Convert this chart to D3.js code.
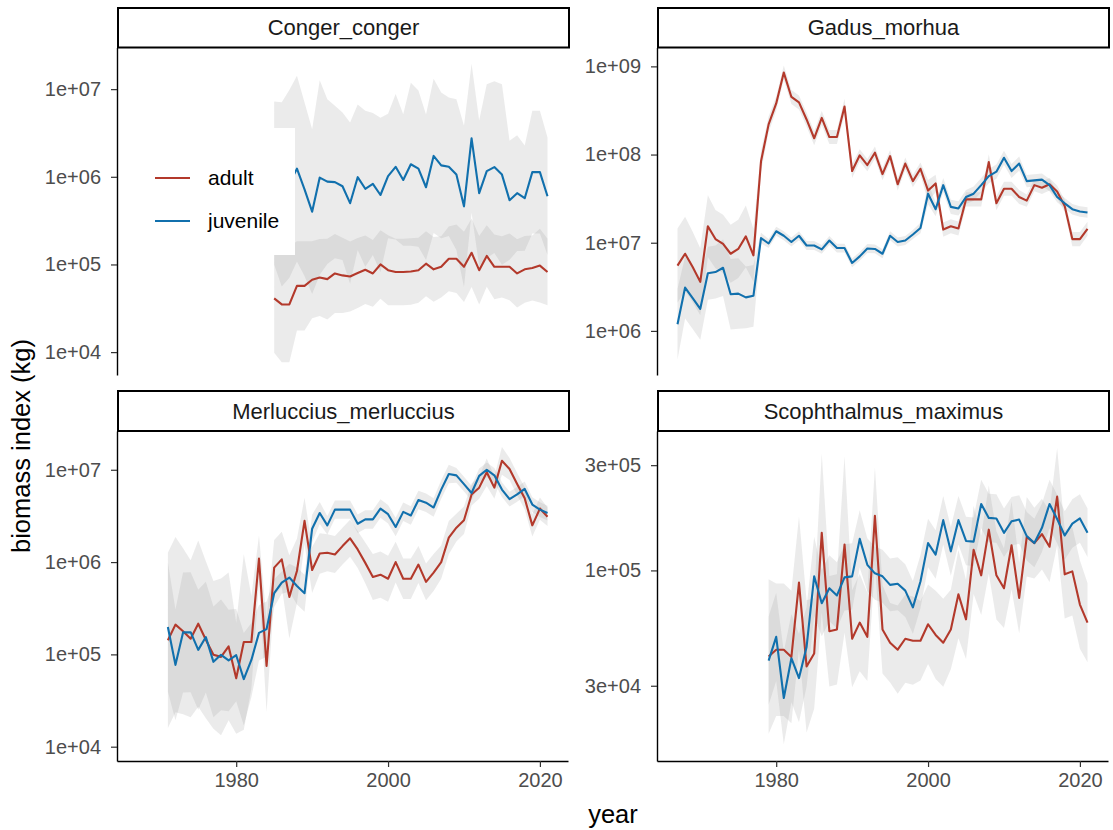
<!DOCTYPE html>
<html><head><meta charset="utf-8">
<script src="https://cdn.jsdelivr.net/npm/d3@7/dist/d3.min.js"></script>
<style>
body{margin:0;background:#fff;}
svg{display:block;font-family:"Liberation Sans",Arial,sans-serif;}
</style>
</head><body>
<svg id="chart" width="1113" height="830"></svg>
<script>
// ---------------- DATA ----------------
const stages = ["adult", "juvenile"];
const panelNames = ["Conger_conger", "Gadus_morhua", "Merluccius_merluccius", "Scophthalmus_maximus"];
const xTicks = [1980, 2000, 2020];

// Conger conger 1985-2021
const congerStart = 1985, congerEnd = 2021;
const congerAdult = [4.1e4,3.5e4,3.5e4,5.7e4,5.7e4,6.7e4,7.1e4,6.8e4,7.9e4,7.5e4,
  7.3e4,8.0e4,8.7e4,7.9e4,1.0e5,8.6e4,8.2e4,8.2e4,8.3e4,8.6e4,
  1.02e5,8.8e4,9.4e4,1.16e5,1.16e5,9.4e4,1.36e5,8.6e4,1.25e5,9.4e4,
  9.4e4,9.4e4,7.9e4,8.8e4,9.1e4,9.7e4,8.2e4];
const congerAdultCi = [0.62,0.66,0.66,0.51,0.51,0.44,0.44,0.46,0.45,0.43,
  0.40,0.40,0.39,0.38,0.39,0.40,0.38,0.38,0.38,0.37,
  0.37,0.37,0.35,0.37,0.39,0.40,0.39,0.39,0.35,0.37,
  0.35,0.38,0.39,0.38,0.37,0.42,0.38];
const congerJuv = [8.5e5,6.3e5,8.3e5,1.24e6,7.2e5,4.0e5,9.8e5,8.8e5,8.7e5,7.8e5,
  5.0e5,9.9e5,7.3e5,8.3e5,6.2e5,1.02e6,1.30e6,9.2e5,1.39e6,1.24e6,
  7.6e5,1.73e6,1.35e6,1.30e6,1.06e6,4.6e5,2.75e6,6.5e5,1.16e6,1.29e6,
  1.06e6,5.4e5,6.5e5,5.7e5,1.13e6,1.13e6,6.0e5];
const congerJuvCi = [0.93,1.05,1.07,1.06,0.99,0.94,1.11,0.94,0.87,0.84,
  0.92,0.83,0.89,0.81,0.88,0.71,0.83,0.75,0.93,0.89,
  0.83,0.88,0.83,0.79,0.86,0.92,0.85,0.83,0.99,0.98,
  1.03,0.68,0.66,0.60,0.70,0.70,0.67];
const congerTicks = [1e4, 1e5, 1e6, 1e7];
const congerTickLabels = ["1e+04", "1e+05", "1e+06", "1e+07"];

// Gadus morhua 1967-2021
const gadusStart = 1967, gadusEnd = 2021;
const gadusAdult = [5.5e6,7.5e6,5.3e6,3.6e6,1.54e7,1.10e7,9.7e6,7.5e6,8.5e6,1.18e7,
  7.2e6,8.4e7,2.2e8,3.8e8,8.5e8,4.5e8,3.9e8,2.5e8,1.53e8,2.6e8,
  1.58e8,1.58e8,3.5e8,6.5e7,9.8e7,7.6e7,1.05e8,6.0e7,9.6e7,4.6e7,
  7.9e7,5.0e7,6.9e7,3.9e7,4.7e7,1.41e7,1.54e7,1.45e7,3.1e7,3.1e7,
  3.1e7,8.2e7,2.8e7,4.1e7,4.1e7,3.3e7,3.0e7,4.5e7,4.2e7,4.6e7,
  3.8e7,2.6e7,1.1e7,1.1e7,1.44e7];
const gadusAdultCi = [0.42,0.42,0.40,0.38,0.35,0.33,0.33,0.33,0.33,0.35,
  0.30,0.12,0.09,0.08,0.08,0.08,0.08,0.08,0.08,0.08,
  0.08,0.08,0.09,0.08,0.07,0.07,0.07,0.07,0.07,0.07,
  0.07,0.07,0.07,0.12,0.10,0.08,0.08,0.08,0.08,0.08,
  0.08,0.09,0.08,0.08,0.08,0.08,0.07,0.07,0.07,0.07,
  0.07,0.07,0.08,0.08,0.08];
const gadusJuv = [1.19e6,3.1e6,2.36e6,1.78e6,4.5e6,4.65e6,5.2e6,2.6e6,2.65e6,2.4e6,
  2.5e6,1.13e7,9.8e6,1.35e7,1.2e7,1.02e7,1.2e7,9.3e6,9.3e6,8.4e6,
  1.06e7,8.7e6,8.7e6,5.9e6,7.0e6,8.6e6,8.5e6,7.5e6,1.2e7,1.02e7,
  1.06e7,1.24e7,1.47e7,3.6e7,2.4e7,4.5e7,2.55e7,2.45e7,3.3e7,3.6e7,
  4.5e7,5.7e7,6.4e7,9.2e7,6.5e7,7.9e7,5.0e7,5.1e7,5.2e7,4.5e7,
  3.3e7,2.8e7,2.4e7,2.26e7,2.2e7];
const gadusJuvCi = [0.40,0.35,0.35,0.35,0.30,0.30,0.32,0.40,0.40,0.35,
  0.35,0.06,0.05,0.05,0.05,0.05,0.05,0.05,0.05,0.05,
  0.05,0.05,0.05,0.05,0.05,0.05,0.05,0.05,0.05,0.05,
  0.05,0.05,0.06,0.12,0.08,0.08,0.08,0.08,0.08,0.08,
  0.08,0.08,0.08,0.08,0.08,0.08,0.07,0.07,0.07,0.07,
  0.06,0.06,0.06,0.06,0.06];
const gadusTicks = [1e6, 1e7, 1e8, 1e9];
const gadusTickLabels = ["1e+06", "1e+07", "1e+08", "1e+09"];

// Merluccius merluccius 1971-2021
const mercStart = 1971, mercEnd = 2021;
const mercAdult = [1.42e5,2.1e5,1.78e5,1.48e5,2.15e5,1.44e5,9.9e4,9.4e4,1.22e5,5.5e4,
  1.36e5,1.36e5,1.09e6,7.5e4,8.7e5,1.07e6,4.2e5,8.0e5,2.8e6,8.2e5,
  1.24e6,1.26e6,1.21e6,1.49e6,1.81e6,1.37e6,9.8e5,6.9e5,7.3e5,6.6e5,
  1.0e6,6.6e5,6.6e5,9.4e5,6.1e5,7.7e5,1.0e6,1.84e6,2.36e6,2.84e6,
  5.4e6,6.4e6,9.4e6,6.4e6,1.25e7,1.02e7,7.0e6,4.9e6,2.5e6,3.8e6,
  3.1e6];
const mercAdultCi = [0.95,0.95,0.90,0.85,0.90,0.85,0.80,0.85,0.80,0.60,
  0.95,0.50,0.25,0.50,0.30,0.30,0.45,0.35,0.25,0.25,
  0.22,0.20,0.20,0.20,0.20,0.20,0.22,0.25,0.25,0.25,
  0.22,0.22,0.22,0.20,0.20,0.20,0.18,0.18,0.15,0.15,
  0.12,0.12,0.15,0.12,0.15,0.12,0.12,0.12,0.12,0.12,
  0.10];
const mercJuv = [1.98e5,7.7e4,1.73e5,1.74e5,1.12e5,1.54e5,8.3e4,9.9e4,8.6e4,9.8e4,
  5.4e4,8.7e4,1.71e5,1.88e5,4.6e5,6.0e5,6.8e5,5.5e5,4.6e5,2.3e6,
  3.4e6,2.5e6,3.7e6,3.7e6,3.7e6,2.6e6,2.9e6,2.9e6,3.8e6,3.3e6,
  2.4e6,3.5e6,3.2e6,4.7e6,4.4e6,3.9e6,6.1e6,9.0e6,8.7e6,7.0e6,
  5.6e6,8.6e6,1.0e7,8.7e6,6.1e6,4.8e6,5.4e6,6.2e6,4.2e6,3.7e6,
  3.4e6];
const mercJuvCi = [0.70,0.60,0.65,0.65,0.65,0.60,0.60,0.60,0.55,0.50,
  0.50,0.40,0.30,0.30,0.15,0.12,0.15,0.20,0.20,0.15,
  0.12,0.10,0.10,0.10,0.10,0.10,0.10,0.10,0.10,0.10,
  0.10,0.10,0.10,0.10,0.10,0.10,0.10,0.10,0.08,0.08,
  0.08,0.08,0.08,0.08,0.08,0.08,0.08,0.08,0.08,0.08,
  0.08];
const mercTicks = [1e4, 1e5, 1e6, 1e7];
const mercTickLabels = ["1e+04", "1e+05", "1e+06", "1e+07"];

// Scophthalmus maximus 1979-2021
const scophStart = 1979, scophEnd = 2021;
const scophAdult = [4.07e4,4.37e4,4.37e4,4.05e4,8.8e4,3.67e4,4.2e4,1.48e5,5.3e4,5.4e4,
  1.31e5,4.9e4,5.8e4,5.0e4,1.77e5,5.4e4,4.7e4,4.37e4,4.9e4,4.8e4,
  4.8e4,5.7e4,5.1e4,4.7e4,5.4e4,7.8e4,6.0e4,1.24e5,9.5e4,1.53e5,
  9.5e4,8.3e4,1.3e5,7.5e4,1.42e5,1.33e5,1.46e5,1.28e5,2.16e5,9.6e4,
  9.9e4,7.0e4,5.8e4];
const scophAdultCi = [0.35,0.30,0.30,0.30,0.30,0.30,0.25,0.36,0.25,0.25,
  0.40,0.22,0.22,0.20,0.22,0.20,0.18,0.20,0.20,0.20,
  0.18,0.18,0.20,0.20,0.18,0.20,0.18,0.20,0.18,0.20,
  0.20,0.18,0.20,0.16,0.18,0.16,0.16,0.16,0.22,0.20,
  0.20,0.20,0.18];
const scophJuv = [3.9e4,5.0e4,2.64e4,4.0e4,3.25e4,4.5e4,9.4e4,7.1e4,8.3e4,7.7e4,
  9.3e4,9.4e4,1.39e5,1.06e5,9.7e4,9.4e4,8.6e4,8.7e4,8.1e4,6.8e4,
  8.9e4,1.33e5,1.18e5,1.69e5,1.22e5,1.69e5,1.36e5,1.35e5,2.0e5,1.73e5,
  1.72e5,1.48e5,1.67e5,1.7e5,1.43e5,1.33e5,1.56e5,2.0e5,1.71e5,1.44e5,
  1.63e5,1.72e5,1.48e5];
const scophJuvCi = [0.20,0.20,0.21,0.20,0.20,0.18,0.18,0.15,0.15,0.15,
  0.15,0.15,0.13,0.12,0.12,0.12,0.12,0.12,0.12,0.12,
  0.12,0.11,0.11,0.11,0.11,0.11,0.11,0.11,0.11,0.11,
  0.11,0.11,0.11,0.11,0.11,0.11,0.11,0.11,0.11,0.11,
  0.11,0.11,0.11];
const scophTicks = [3e4, 1e5, 3e5];
const scophTickLabels = ["3e+04", "1e+05", "3e+05"];

// ---------------- LAYOUT / STYLE ----------------
const colors = {adult: "#b3392b", juvenile: "#1170ad"};
const xDomain = [1964.3, 2023.7];
const panels = [
  {name: panelNames[0], start: congerStart, end: congerEnd, adult: congerAdult, adultCi: congerAdultCi, juvenile: congerJuv, juvenileCi: congerJuvCi, ticks: congerTicks, labels: congerTickLabels,
   x0: 117, x1: 568, sTop: 8, y0: 47.5, y1: 375, logLo: 3.739, logHi: 7.475, xAxis: false, legend: true},
  {name: panelNames[1], start: gadusStart, end: gadusEnd, adult: gadusAdult, adultCi: gadusAdultCi, juvenile: gadusJuv, juvenileCi: gadusJuvCi, ticks: gadusTicks, labels: gadusTickLabels,
   x0: 657, x1: 1108, sTop: 8, y0: 47.5, y1: 375, logLo: 5.50, logHi: 9.214, xAxis: false},
  {name: panelNames[2], start: mercStart, end: mercEnd, adult: mercAdult, adultCi: mercAdultCi, juvenile: mercJuv, juvenileCi: mercJuvCi, ticks: mercTicks, labels: mercTickLabels,
   x0: 117, x1: 568, sTop: 391, y0: 431, y1: 761, logLo: 3.845, logHi: 7.42, xAxis: true},
  {name: panelNames[3], start: scophStart, end: scophEnd, adult: scophAdult, adultCi: scophAdultCi, juvenile: scophJuv, juvenileCi: scophJuvCi, ticks: scophTicks, labels: scophTickLabels,
   x0: 657, x1: 1108, sTop: 391, y0: 431, y1: 761, logLo: 4.136, logHi: 5.632, xAxis: true}
];

const svg = d3.select("#chart");
svg.append("rect").attr("width", 1113).attr("height", 830).attr("fill", "#fff");
const defs = svg.append("defs");

panels.forEach((p, pi) => {
  const x = d3.scaleLinear().domain(xDomain).range([p.x0, p.x1]);
  const y = d3.scaleLog().domain([Math.pow(10, p.logLo), Math.pow(10, p.logHi)]).range([p.y1, p.y0]);
  const years = d3.range(p.start, p.end + 1);
  const clipId = "clip" + pi;
  defs.append("clipPath").attr("id", clipId).append("rect")
    .attr("x", p.x0).attr("y", p.y0).attr("width", p.x1 - p.x0).attr("height", p.y1 - p.y0);
  const g = svg.append("g").attr("clip-path", `url(#${clipId})`);

  const seriesData = stages.map(s => years.map((yr, i) => ({
    year: yr,
    v: p[s][i],
    lo: p[s][i] / Math.pow(10, p[s + "Ci"][i]),
    hi: p[s][i] * Math.pow(10, p[s + "Ci"][i])
  })));

  const area = d3.area().x(d => x(d.year)).y0(d => y(d.lo)).y1(d => y(d.hi));
  const line = d3.line().x(d => x(d.year)).y(d => y(d.v));

  seriesData.forEach(sd => {
    g.append("path").attr("d", area(sd)).attr("fill", "#999999").attr("fill-opacity", 0.2);
  });
  seriesData.forEach((sd, si) => {
    g.append("path").attr("d", line(sd)).attr("fill", "none")
      .attr("stroke", colors[stages[si]]).attr("stroke-width", 2.1).attr("stroke-linejoin", "round");
  });

  // y axis
  const yAxis = d3.axisLeft(y).tickValues(p.ticks).tickFormat((d, i) => p.labels[i])
    .tickSize(6).tickSizeOuter(0).tickPadding(10);
  const ya = svg.append("g").attr("transform", `translate(${p.x0},0)`).call(yAxis);
  ya.select(".domain").attr("stroke", "#000").attr("stroke-width", 1.4);
  ya.selectAll(".tick line").attr("stroke", "#333").attr("stroke-width", 1.2);
  ya.selectAll(".tick text").attr("fill", "#4d4d4d").attr("font-size", 20)
    .attr("font-family", "Liberation Sans, Arial, sans-serif");

  if (p.xAxis) {
    const xAxis = d3.axisBottom(x).tickValues(xTicks).tickFormat(d3.format("d"))
      .tickSize(6).tickSizeOuter(0).tickPadding(6);
    const xa = svg.append("g").attr("transform", `translate(0,${p.y1})`).call(xAxis);
    xa.select(".domain").attr("stroke", "#000").attr("stroke-width", 1.4);
    xa.selectAll(".tick line").attr("stroke", "#333").attr("stroke-width", 1.2);
    xa.selectAll(".tick text").attr("fill", "#4d4d4d").attr("font-size", 20)
      .attr("font-family", "Liberation Sans, Arial, sans-serif");
  }

  // strip
  svg.append("rect").attr("x", p.x0 + 1).attr("y", p.sTop).attr("width", p.x1 - p.x0)
    .attr("height", p.y0 - p.sTop).attr("fill", "#fff").attr("stroke", "#000").attr("stroke-width", 2);
  svg.append("text").attr("x", (p.x0 + p.x1) / 2 + 1).attr("y", (p.sTop + p.y0) / 2 + 7.5)
    .attr("text-anchor", "middle").attr("font-size", 22).attr("fill", "#1a1a1a").text(p.name);

  if (p.legend) {
    const lg = svg.append("g");
    lg.append("rect").attr("x", 135).attr("y", 128).attr("width", 160).attr("height", 127).attr("fill", "#fff");
    stages.forEach((s, i) => {
      const cy = 178 + i * 43;
      lg.append("line").attr("x1", 155).attr("x2", 190).attr("y1", cy).attr("y2", cy)
        .attr("stroke", colors[s]).attr("stroke-width", 2);
      lg.append("text").attr("x", 208).attr("y", cy + 7).attr("font-size", 21).attr("fill", "#000").text(s);
    });
  }
});

// axis titles
svg.append("text").attr("x", 613).attr("y", 823).attr("text-anchor", "middle")
  .attr("font-size", 25.5).attr("fill", "#000").text("year");
svg.append("text").attr("transform", "translate(30,446) rotate(-90)").attr("text-anchor", "middle")
  .attr("font-size", 25.5).attr("fill", "#000").text("biomass index (kg)");
</script>
</body></html>
